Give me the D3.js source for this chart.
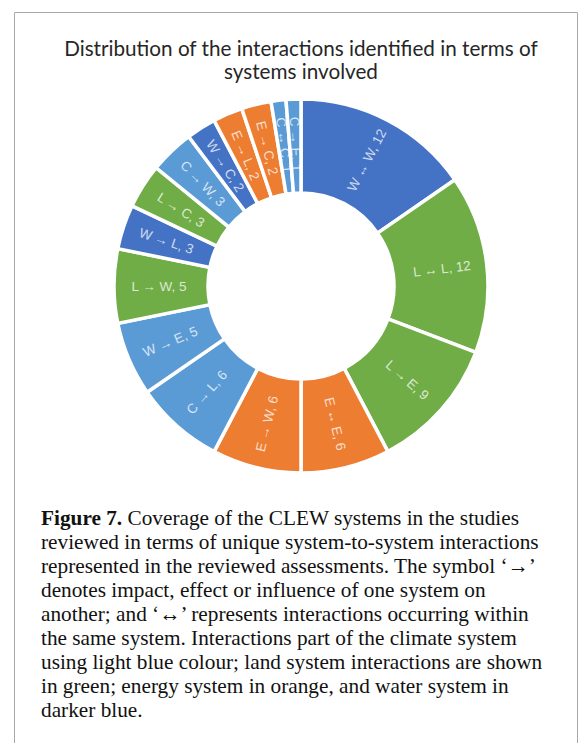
<!DOCTYPE html>
<html>
<head>
<meta charset="utf-8">
<script src="https://cdn.jsdelivr.net/npm/d3@7"></script>
<style>
  html, body { margin: 0; padding: 0; background: #fff; }
  svg { display: block; }
</style>
</head>
<body>
<svg id="chart" width="584" height="743"></svg>
<script>
// ---- data ----
const categories = ["W ↔ W", "L ↔ L", "L → E", "E ↔ E", "E → W", "C → L", "W → E", "L → W",
                    "W → L", "L → C", "C → W", "W → C", "E → L", "E → C", "C ↔ C", "C → E"];
const values = [12, 12, 9, 6, 6, 6, 5, 5, 3, 3, 3, 2, 2, 2, 1, 1];
const colourGroups = ["W", "L", "L", "E", "E", "C", "C", "L", "W", "L", "C", "W", "E", "E", "C", "C"];
const groupNames = ["C", "L", "E", "W"];
const groupColours = ["#5B9BD5", "#70AD47", "#ED7D31", "#4472C4"];
const titleLines = ["Distribution of the interactions identified in terms of", "systems involved"];
const captionBold = "Figure 7.";
const captionLines = [
  " Coverage of the CLEW systems in the studies",
  "reviewed in terms of unique system-to-system interactions",
  "represented in the reviewed assessments. The symbol ‘→’",
  "denotes impact, effect or influence of one system on",
  "another; and ‘↔’ represents interactions occurring within",
  "the same system. Interactions part of the climate system",
  "using light blue colour; land system interactions are shown",
  "in green; energy system in orange, and water system in",
  "darker blue."
];

const svg = d3.select("#chart");

// frame
svg.append("path")
  .attr("d", "M14.5,760 L14.5,12.5 L577.5,12.5 L577.5,760")
  .attr("fill", "none").attr("stroke", "#a8a8a8").attr("stroke-width", 1);

// title
const title = svg.append("text")
  .attr("text-anchor", "middle")
  .attr("font-family", "Lato, 'Open Sans', sans-serif")
  .attr("fill", "#262626")
  .attr("font-size", 20);
title.selectAll("tspan").data(titleLines).join("tspan")
  .attr("x", 301)
  .attr("y", (d, i) => 56 + i * 23)
  .text(d => d);
{
  const w = title.select("tspan").node().getComputedTextLength();
  title.attr("font-size", 20 * 474 / w);
}

// donut
const cx = 301, cy = 286, R = 187, r = 93;
const colour = d3.scaleOrdinal().domain(groupNames).range(groupColours);
const data = categories.map((c, i) => ({ cat: c, value: values[i], grp: colourGroups[i] }));
const pie = d3.pie().sort(null).value(d => d.value);
const arcs = pie(data);
const arc = d3.arc().innerRadius(r).outerRadius(R);
const labelArc = d3.arc().innerRadius((r + R) / 2 + 2).outerRadius((r + R) / 2 + 2);

const g = svg.append("g").attr("transform", `translate(${cx},${cy})`);
g.selectAll("path.slice").data(arcs).join("path")
  .attr("class", "slice")
  .attr("d", arc)
  .attr("fill", d => colour(d.data.grp))
  .attr("stroke", "#fff")
  .attr("stroke-width", 3.5)
  .attr("stroke-linejoin", "miter");

g.selectAll("text.lbl").data(arcs).join("text")
  .attr("class", "lbl")
  .attr("transform", d => {
    const [x, y] = labelArc.centroid(d);
    const deg = (d.startAngle + d.endAngle) / 2 * 180 / Math.PI;
    const rot = deg < 180 ? deg - 90 : deg - 270;
    return `translate(${x},${y}) rotate(${rot})`;
  })
  .attr("text-anchor", "middle")
  .attr("dominant-baseline", "central")
  .attr("font-family", "'Liberation Sans', Arial, sans-serif")
  .attr("font-size", 13.5)
  .attr("fill", "#fff")
  .attr("fill-opacity", 0.75)
  .text(d => `${d.data.cat}, ${d.data.value}`);

// caption
const cap = svg.append("text")
  .attr("font-family", "'Liberation Serif', 'Times New Roman', serif")
  .attr("fill", "#111")
  .attr("font-size", 20);
const capSpans = [];
captionLines.forEach((line, i) => {
  const t = cap.append("tspan").attr("x", 41).attr("y", 525 + i * 24);
  if (i === 0) {
    t.append("tspan").attr("font-weight", "bold").text(captionBold);
    cap.append("tspan").text(line);
  } else {
    t.text(line);
  }
  capSpans.push(t);
});
{
  const w = capSpans[1].node().getComputedTextLength();
  cap.attr("font-size", 20 * 498 / w);
}
</script>
</body>
</html>
